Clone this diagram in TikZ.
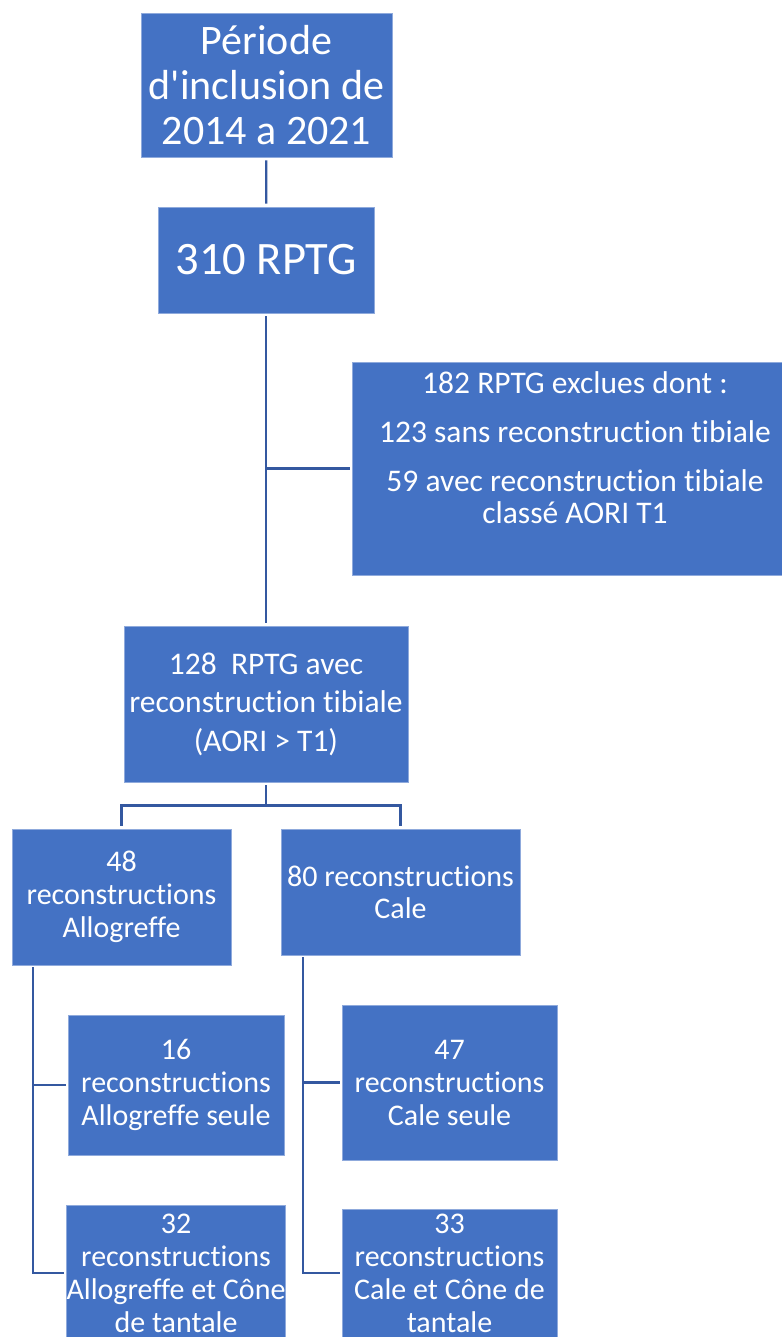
\documentclass[tikz,border=0pt]{standalone}
\usepackage{fontspec}
\setmainfont[Ligatures={CommonOff,TeXOff}]{Carlito}
\usetikzlibrary{positioning}
\definecolor{boxblue}{RGB}{68,114,196}
\definecolor{boxedge}{RGB}{143,170,220}
\definecolor{linkblue}{RGB}{52,88,160}

\begin{document}
\begin{tikzpicture}[x=1pt,y=-1pt,
		box/.style={fill=boxblue,draw=boxedge,line width=0.8pt,text=white,align=center,inner sep=0pt},
		small/.style={font=\fontsize{30}{33}\selectfont},
		link/.style={draw=linkblue,line width=2.2pt}]
			\useasboundingbox (0,0) rectangle (781,1337);
			\node[box,minimum width=251pt,minimum height=144pt,font=\fontsize{42}{45}\selectfont] (period) at (266.5,85) {Période\\d'inclusion de\\2014 a 2021};
			\node[box,minimum width=216pt,minimum height=106pt,font=\fontsize{46.5}{50}\selectfont] (total) at (266,260) {310 RPTG};
			\node[box,minimum width=446pt,minimum height=213pt] (excl) at (575,468.5) {};
			\node[text=white,align=center,font=\fontsize{31.5}{32}\selectfont] (excltext) at ([yshift=21pt]excl.center) {182 RPTG exclues dont :\\[17pt]123 sans reconstruction tibiale\\[17pt]59 avec reconstruction tibiale\\classé AORI T1};
			\node[box,minimum width=284pt,minimum height=156pt,font=\fontsize{31.5}{38.5}\selectfont] (rpt128) at (266,704) {128\ \ RPTG avec\\reconstruction tibiale\\(AORI > T1)};
			\node[box,small,minimum width=219pt,minimum height=136pt] (allo) at (121.5,897) {48\\reconstructions\\Allogreffe};
			\node[box,minimum width=239pt,minimum height=126pt,font=\fontsize{30}{32}\selectfont] (cale) at (400.5,892) {80 reconstructions\\Cale};
			\node[box,small,minimum width=216pt,minimum height=140pt] (alloseule) at (176,1085) {16\\reconstructions\\Allogreffe seule};
			\node[box,small,minimum width=216pt,minimum height=136pt] (allocone) at (176,1273) {32\\reconstructions\\Allogreffe et Cône\\de tantale};
			\node[box,small,minimum width=215pt,minimum height=155pt] (caleseule) at (449.5,1082.5) {47\\reconstructions\\Cale seule};
			\node[box,small,minimum width=215pt,minimum height=128pt] (calecone) at (449.5,1273) {33\\reconstructions\\Cale et Cône de\\tantale};
			\draw[link,shorten <=3pt,shorten >=3pt] (period) -- (total);
			\draw[link,shorten <=3pt,shorten >=3pt] (total) -- (rpt128);
			\draw[link,shorten >=2pt] (total.south |- excl.west) -- (excl.west);
			\draw[link,shorten <=3pt,shorten >=3pt] (rpt128.south) -- ++(0,23) -| (allo.north);
			\draw[link,shorten <=3pt,shorten >=3pt] (rpt128.south) -- ++(0,23) -| (cale.north);
			\draw[link,shorten <=2pt,shorten >=2pt] ([xshift=21pt]allo.south west) |- (alloseule.west);
			\draw[link,shorten <=2pt,shorten >=2pt] ([xshift=21pt]allo.south west) |- (allocone.west);
			\draw[link,shorten <=2pt,shorten >=2pt] ([xshift=22pt]cale.south west) |- (caleseule.west);
			\draw[link,shorten <=2pt,shorten >=2pt] ([xshift=22pt]cale.south west) |- (calecone.west);
		\end{tikzpicture}
\end{document}
